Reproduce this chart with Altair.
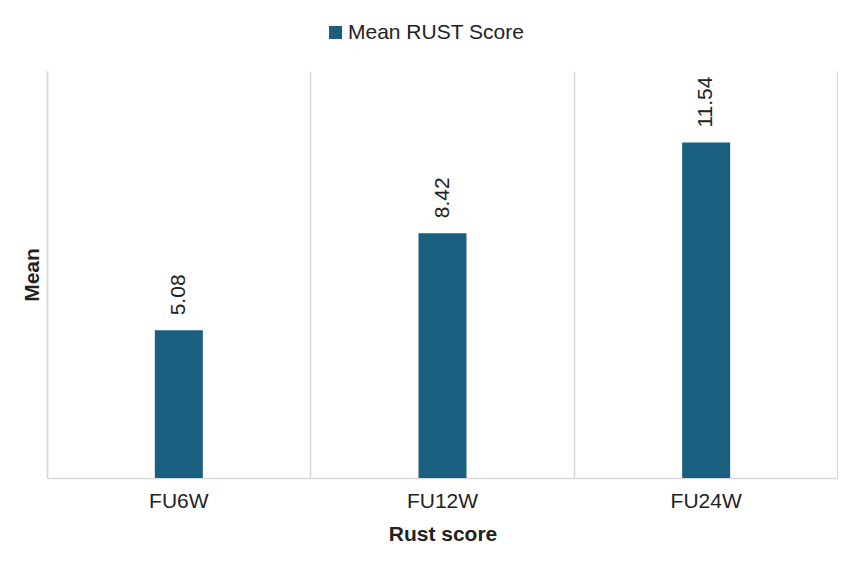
import altair as alt
import pandas as pd

categories = ["FU6W", "FU12W", "FU24W"]
means = [5.08, 8.42, 11.54]
series = ["Mean RUST Score"] * 3

df = pd.DataFrame({"cat": categories, "mean": means, "series": series})
df["label"] = df["mean"].map(lambda v: f"{v:.2f}")

W, H = 791, 407
FONT = "Liberation Sans"
GRID = "#d9d9d9"
TXT = "#222222"
FS = 21

x = alt.X("cat:N", sort=categories, title="Rust score",
          scale=alt.Scale(paddingInner=0, paddingOuter=0),
          axis=alt.Axis(labelAngle=0, labelFontSize=FS, labelColor=TXT,
                        labelPadding=12, ticks=False, domainColor=GRID, domainWidth=1.5,
                        grid=True, gridColor=GRID, gridWidth=1.5, bandPosition=0,
                        titleFontSize=FS, titleFontWeight="bold", titleColor=TXT,
                        titlePadding=12, labelFont=FONT, titleFont=FONT))
y = alt.Y("mean:Q", title="Mean", scale=alt.Scale(domain=[0, 14]),
          axis=alt.Axis(labels=False, ticks=False, grid=False, domainColor=GRID,
                        domainWidth=1.5, titleFontSize=FS, titleFontWeight="bold",
                        titleColor=TXT, titlePadding=5, titleFont=FONT))

bars = alt.Chart(df).mark_bar(size=48).encode(
    x=x, y=y,
    color=alt.Color("series:N", scale=alt.Scale(range=["#1a5e80"]),
                    legend=alt.Legend(title=None, orient="none", legendX=278, legendY=-49,
                                      symbolType="square", symbolSize=169,
                                      labelFontSize=FS, labelFont=FONT, labelColor=TXT,
                                      labelOffset=2, labelLimit=400)),
)

labels = alt.Chart(df).mark_text(angle=270, align="left", baseline="middle", dx=15,
                                 fontSize=FS, font=FONT, color=TXT).encode(
    x=alt.X("cat:N", sort=categories), y="mean:Q", text="label:N")

right_edge = alt.Chart(df).mark_rule(color=GRID, strokeWidth=1.5).encode(
    x=alt.value(W), y=alt.value(0), y2=alt.value(H))

chart = alt.layer(bars, labels, right_edge).properties(
    width=W, height=H,
    autosize=alt.AutoSizeParams(type="none"),
    padding={"left": 39, "top": 63, "right": 0, "bottom": 76},
).configure_view(stroke=None)

chart.save("out.html", embed_options={"renderer": "svg", "actions": False})
